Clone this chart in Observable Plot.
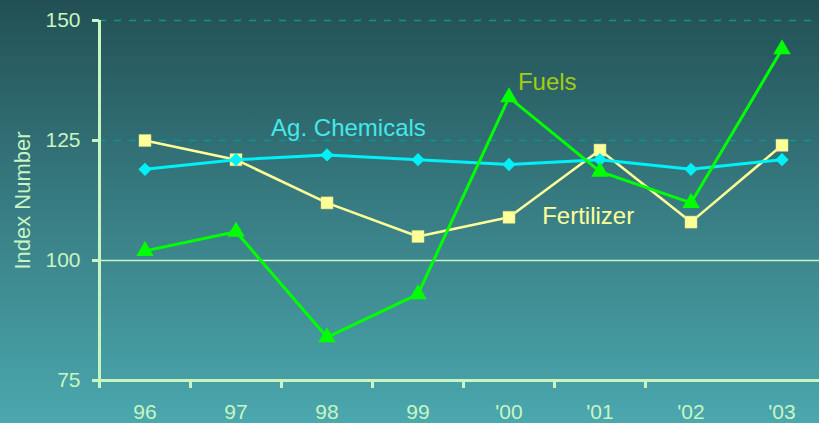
<!DOCTYPE html>
<html>
<head>
<meta charset="utf-8">
<script src="https://cdn.jsdelivr.net/npm/d3@7"></script>
<script src="https://cdn.jsdelivr.net/npm/@observablehq/plot@0.6"></script>
<style>
  html, body { margin: 0; padding: 0; background: #3a8a90; overflow: hidden; }
  #chart svg { display: block; }
</style>
</head>
<body>
<div id="chart"></div>
<script>
const years = ["96", "97", "98", "99", "'00", "'01", "'02", "'03"];
const agChemicals = [119, 121, 122, 121, 120, 121, 119, 121];
const fertilizer = [125, 121, 112, 105, 109, 123, 108, 124];
const fuels = [102, 106, 84, 93, 134, 118.5, 112, 144];
const yTicks = [75, 100, 125, 150];

const idx = years.map((_, i) => i);
const rows = (vals) => vals.map((v, i) => ({i, v}));
const boundaries = idx.slice(0, -1).map(i => i - 0.5);

const axisColor = "#c8f5c2";
const font = "'Liberation Sans', Arial, sans-serif";

const chart = Plot.plot({
  width: 819,
  height: 423,
  marginLeft: 99,
  marginTop: 20,
  marginBottom: 43,
  marginRight: 0,
  style: {
    background: "linear-gradient(to bottom, #225054 0%, #3a8288 55%, #4aa8ae 100%)",
    fontFamily: font,
    color: axisColor,
    overflow: "visible"
  },
  x: {type: "linear", domain: [-0.5, 7.5], range: [99, 827]},
  y: {domain: [75, 150], range: [380, 20]},
  marks: [
    Plot.ruleY([125, 150], {x1: -0.5, x2: 7.5, stroke: "#139090", strokeWidth: 1.3, strokeDasharray: "7,8"}),
    Plot.ruleY([100], {x1: -0.5, x2: 7.5, stroke: axisColor, strokeWidth: 1.6}),
    Plot.axisY({ticks: yTicks, tickSize: 7, tickPadding: 12, strokeWidth: 3, stroke: axisColor, fill: axisColor, fontSize: 21, label: null}),
    Plot.axisX({ticks: boundaries.concat([-0.5]), tickSize: 8, strokeWidth: 3, stroke: axisColor, tickFormat: () => "", label: null}),
    Plot.axisX({ticks: idx, tickSize: 0, tickPadding: 24, fill: axisColor, fontSize: 21, tickFormat: i => years[i], label: null}),
    Plot.ruleY([75], {x1: -0.5, x2: 7.5, stroke: axisColor, strokeWidth: 3}),
    Plot.ruleX([-0.5], {y1: 75, y2: 150, stroke: axisColor, strokeWidth: 3}),
    Plot.text(["Index Number"], {frameAnchor: "left", dx: -77, rotate: -90, textAnchor: "middle", fill: axisColor, fontSize: 22}),

    Plot.line(rows(fertilizer), {x: "i", y: "v", stroke: "#ffff99", strokeWidth: 2.5}),
    Plot.dot(rows(fertilizer), {x: "i", y: "v", symbol: "square", r: 6.8, fill: "#ffff99", stroke: "#d8d080", strokeWidth: 0.5}),
    Plot.line(rows(agChemicals), {x: "i", y: "v", stroke: "#00f0f8", strokeWidth: 3}),
    Plot.dot(rows(agChemicals), {x: "i", y: "v", symbol: "diamond2", r: 6, fill: "#00f0f8"}),
    Plot.line(rows(fuels), {x: "i", y: "v", stroke: "#00ff00", strokeWidth: 3}),
    Plot.dot(rows(fuels), {x: "i", y: "v", symbol: "triangle", r: 6.5, fill: "#00ff00"}),

    Plot.text(["Ag. Chemicals"], {x: 2.236, y: 127.5, fill: "#44e8e8", fontSize: 24}),
    Plot.text(["Fuels"], {x: 4.42, y: 137.1, fill: "#a4cc10", fontSize: 24}),
    Plot.text(["Fertilizer"], {x: 4.87, y: 109.2, fill: "#ffff99", fontSize: 24})
  ]
});
document.getElementById("chart").appendChild(chart);
</script>
</body>
</html>
